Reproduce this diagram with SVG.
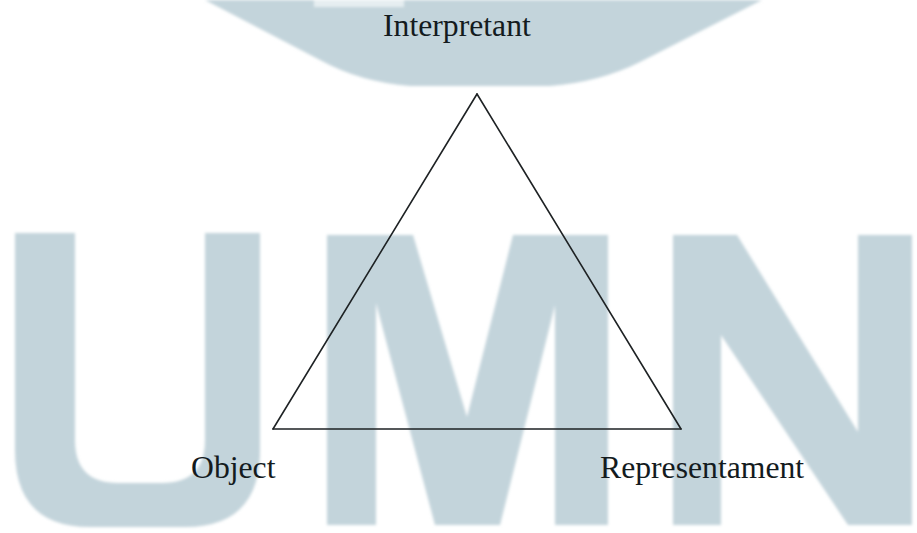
<svg xmlns="http://www.w3.org/2000/svg" width="917" height="533" viewBox="0 0 917 533">
  <defs>
    <filter id="soft" x="-5%" y="-5%" width="110%" height="110%">
      <feGaussianBlur stdDeviation="1.6"/>
    </filter>
    <style>
      .wm { fill: #c3d4db; }
      .lbl { font-family: "Liberation Serif", "Times New Roman", serif; font-size: 31.7px; fill: #141b1e; }
      .edge { stroke: #1e2224; stroke-width: 1.6; fill: none; stroke-linecap: round; }
    </style>
  </defs>
  <rect width="917" height="533" fill="#ffffff"/>
  <g id="watermark" filter="url(#soft)">
    <path class="wm" d="M205,0 L320,60 Q360,82 410,86 L550,86 Q600,82 640,62 L762,0 Z"/>
    <rect x="314" y="0" width="90" height="7" fill="#e6eef1"/>
    <path class="wm" d="M15,233 H75 V440 Q75,483 118,483 H162 Q205,483 205,440 V233 H260 V450 Q260,527 185,527 H90 Q15,527 15,450 Z"/>
    <path class="wm" d="M327,525 L327,235 L413,235 L467,417 L513,235 L608,235 L608,525 L555,525 L555,305 L500,525 L435,525 L376,303 L376,525 Z"/>
    <path class="wm" d="M673,525 L673,235 L737,235 L858,432 L858,235 L912,235 L912,525 L848,525 L721,335 L721,525 Z"/>
  </g>
  <g id="connectors">
    <line class="edge" x1="477" y1="94" x2="273" y2="429"/>
    <line class="edge" x1="477" y1="94" x2="681" y2="429"/>
    <line class="edge" x1="273" y1="429" x2="681" y2="429"/>
  </g>
  <g id="node-interpretant">
    <text class="lbl" x="383" y="36">Interpretant</text>
  </g>
  <g id="node-object">
    <text class="lbl" x="191" y="478">Object</text>
  </g>
  <g id="node-representament">
    <text class="lbl" x="600" y="478">Representament</text>
  </g>
</svg>
